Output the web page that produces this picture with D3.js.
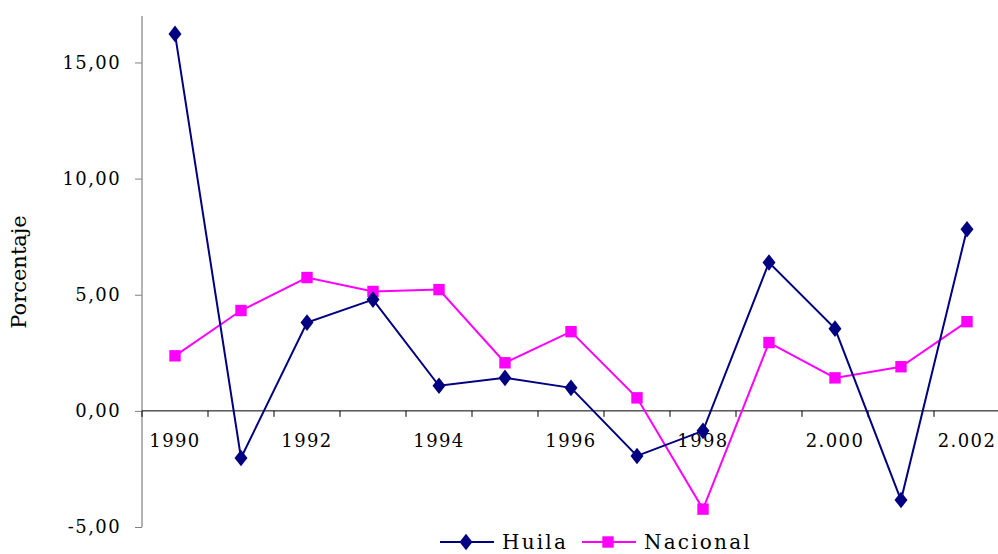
<!DOCTYPE html>
<html>
<head>
<meta charset="utf-8">
<title>Porcentaje Huila vs Nacional</title>
<script src="https://d3js.org/d3.v7.min.js"></script>
<style>
  body { margin: 0; background: #fff; }
  text { font-family: "DejaVu Serif", serif; fill: #000; }
</style>
</head>
<body>
<script>
var years = [1990, 1991, 1992, 1993, 1994, 1995, 1996, 1997, 1998, 1999, 2000, 2001, 2002];
var yearLabels = ["1990", "", "1992", "", "1994", "", "1996", "", "1998", "", "2.000", "", "2.002"];
var huila = [16.23, -2.03, 3.80, 4.79, 1.08, 1.42, 0.99, -1.94, -0.86, 6.39, 3.54, -3.84, 7.82];
var nacional = [2.37, 4.32, 5.74, 5.14, 5.22, 2.07, 3.41, 0.56, -4.23, 2.94, 1.42, 1.90, 3.84];
var yTicks = [-5, 0, 5, 10, 15];

var width = 998, height = 554;
var svg = d3.select("body").append("svg")
    .attr("width", width).attr("height", height);

var x = d3.scaleBand().domain(years).range([142, 1000]);
var y = d3.scaleLinear().domain([-5, 17]).range([527, 16]);

var fmt = function(d) { return d3.format(".2f")(d).replace(".", ",").replace("\u2212", "-"); };

// y axis
var yAxis = svg.append("g").attr("transform", "translate(142,0)")
    .call(d3.axisLeft(y).tickValues(yTicks).tickFormat(fmt).tickSize(7).tickPadding(14));
yAxis.select(".domain").attr("stroke", "#808080").attr("stroke-width", 1.2).attr("d", "M0," + y(-5) + "V16");
yAxis.selectAll(".tick line").attr("stroke", "#808080");
yAxis.selectAll(".tick text").style("font-size", "18px").style("letter-spacing", "1.4px")
    .style("font-family", "DejaVu Serif");

// x axis at zero
var xAxis = svg.append("g").attr("transform", "translate(0," + y(0) + ")")
    .call(d3.axisBottom(x).tickSize(0).tickFormat(function(d, i) { return yearLabels[i]; }).tickPadding(23));
xAxis.select(".domain").attr("stroke", "#000").attr("d", "M142,0H998");
xAxis.selectAll(".tick text").style("font-size", "18px").style("letter-spacing", "1.4px")
    .style("font-family", "DejaVu Serif");
xAxis.selectAll(".edge").data(d3.range(years.length + 1)).enter().append("line")
    .attr("x1", function(i) { return 142 + i * x.step(); })
    .attr("x2", function(i) { return 142 + i * x.step(); })
    .attr("y1", 0).attr("y2", 6).attr("stroke", "#000");

svg.append("text")
    .attr("transform", "translate(26,272) rotate(-90)")
    .attr("text-anchor", "middle")
    .style("font-size", "21px")
    .text("Porcentaje");

var cx = function(d, i) { return x(years[i]) + x.bandwidth() / 2; };
var line = d3.line().x(cx).y(function(d) { return y(d); });

svg.append("path").datum(nacional).attr("d", line)
    .attr("fill", "none").attr("stroke", "#FF00FF").attr("stroke-width", 2);
svg.append("path").datum(huila).attr("d", line)
    .attr("fill", "none").attr("stroke", "#000080").attr("stroke-width", 2);

var sq = d3.symbol().type(d3.symbolSquare).size(130);
var dia = d3.symbol().type(d3.symbolDiamond).size(110);

svg.selectAll(".nac").data(nacional).enter().append("path")
    .attr("d", sq)
    .attr("transform", function(d, i) { return "translate(" + cx(d, i) + "," + y(d) + ")"; })
    .attr("fill", "#FF00FF");
svg.selectAll(".hui").data(huila).enter().append("path")
    .attr("d", dia)
    .attr("transform", function(d, i) { return "translate(" + cx(d, i) + "," + y(d) + ") scale(1.15,0.85)"; })
    .attr("fill", "#000080");

// legend
var legend = [
  { name: "Huila", color: "#000080", sym: dia, x: 440, sx: 1.15, sy: 0.85 },
  { name: "Nacional", color: "#FF00FF", sym: sq, x: 582, sx: 1, sy: 1 }
];
var lg = svg.selectAll(".lg").data(legend).enter().append("g")
    .attr("transform", function(d) { return "translate(" + d.x + ",542)"; });
lg.append("line").attr("x1", 0).attr("x2", 54).attr("y1", 0).attr("y2", 0)
    .attr("stroke", function(d) { return d.color; }).attr("stroke-width", 2);
lg.append("path").attr("d", function(d) { return d.sym(); })
    .attr("transform", function(d) { return "translate(26,0) scale(" + d.sx + "," + d.sy + ")"; })
    .attr("fill", function(d) { return d.color; });
lg.append("text").attr("x", 62).attr("y", 7)
    .style("font-size", "20px").style("letter-spacing", "2.2px")
    .text(function(d) { return d.name; });
</script>
</body>
</html>
